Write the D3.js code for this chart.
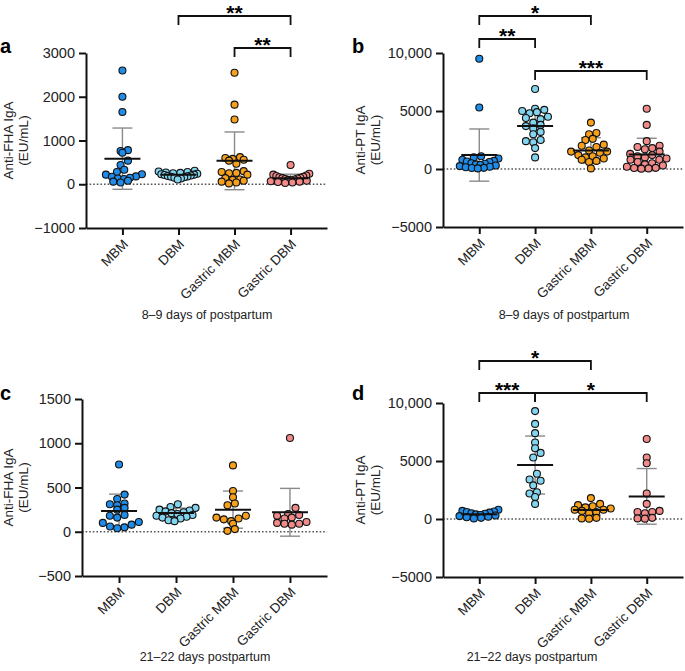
<!DOCTYPE html>
<html>
<head>
<meta charset="utf-8">
<script src="https://cdn.jsdelivr.net/npm/d3@7"></script>
<style>
  body { margin: 0; background: #fff; }
  svg { font-family: "Liberation Sans", Arial, Helvetica, sans-serif; }
</style>
</head>
<body>
<div class="vis"></div>
<script>
// four dot plots, IgA in breast milk

const FRAME_WIDTH = 685;
const FRAME_HEIGHT = 671;

const CATEGORIES = ["MBM", "DBM", "Gastric MBM", "Gastric DBM"];
const COLORS = ["#1e8ce8", "#82d4ef", "#f7a01c", "#f28a8a"];

// a : anti-FHA, 8-9 days
const A_POINTS = [
  [2600, 2000, 1650, 780, 760, 720, 540, 440, 330, 280, 230, 220, 180, 170, 150, 130, 120, 80, 60, 40],
  [310, 290, 280, 270, 260, 250, 240, 230, 220, 210, 200, 190, 180, 170, 160, 150, 130, 110],
  [2550, 1820, 1480, 620, 600, 580, 560, 540, 470, 300, 280, 260, 250, 220, 140, 110, 100, 80, 60, 40, 20],
  [440, 240, 220, 200, 190, 170, 160, 150, 140, 130, 120, 110, 100, 90, 80, 70, 60, 50, 40, 30]
];
const A_MEAN = [585, 215, 535, 140];
const A_SD = [700, 60, 660, 90];
const A_TICKS = [-1000, 0, 1000, 2000, 3000];

// b : anti-PT, 8-9 days
const B_POINTS = [
  [9500, 5300, 1100, 1000, 900, 800, 700, 650, 600, 500, 450, 400, 350, 300, 250, 200, 150, 100, 80, 50],
  [6900, 5200, 5100, 5000, 4900, 4800, 4500, 4400, 4300, 4000, 3800, 3700, 3500, 3200, 3000, 2500, 2400, 2300, 1800, 1000],
  [4000, 3100, 3000, 2600, 2500, 2100, 2000, 1900, 1600, 1500, 1500, 1400, 1200, 1100, 1000, 900, 800, 700, 600, 50],
  [5200, 3800, 2400, 2000, 1900, 1800, 1700, 1500, 1300, 1200, 1100, 1000, 900, 800, 800, 600, 500, 400, 300, 200, 100, 80, 50, 30]
];
const B_MEAN = [1200, 3700, 1600, 1250];
const B_SD = [2250, 1300, 1100, 1400];
const B_TICKS = [-5000, 0, 5000, 10000];

// c : anti-FHA, 21-22 days
const C_POINTS = [
  [760, 420, 370, 320, 310, 300, 270, 250, 190, 180, 160, 110, 100, 80, 60, 50, 40],
  [310, 280, 270, 250, 240, 230, 220, 210, 200, 190, 180, 170, 160, 150, 130, 120],
  [750, 460, 390, 320, 300, 180, 160, 150, 140, 120, 90, 30, 10],
  [1060, 270, 200, 190, 180, 160, 150, 110, 100, 90, 90, 80]
];
const C_MEAN = [235, 212, 250, 220];
const C_SD = [190, 55, 210, 270];
const C_TICKS = [-500, 0, 500, 1000, 1500];

// d : anti-PT, 21-22 days
const D_POINTS = [
  [800, 700, 650, 600, 550, 500, 450, 400, 350, 300, 250, 200, 150, 100, 50],
  [9300, 8200, 7400, 6600, 6100, 5700, 5300, 3900, 3400, 3300, 2900, 2300, 2200, 1900, 1300],
  [1800, 1300, 1200, 1100, 1000, 900, 800, 800, 700, 600, 500, 100, 50, 30],
  [6900, 5300, 4800, 2200, 1300, 700, 600, 600, 500, 100, 50, 30]
];
const D_MEAN = [400, 4650, 780, 1950];
const D_SD = [230, 2500, 450, 2400];
const D_TICKS = [-5000, 0, 5000, 10000];

const PANELS = [
  {letter: "a", lx: 0, ly: 53, x0: 86, x1: 327, top: 53, bot: 228, domain: [-1000, 3000],
   points: A_POINTS, mean: A_MEAN, sd: A_SD, ticks: A_TICKS,
   title: ["Anti-FHA IgA", "(EU/mL)"], tx: 13, xlabel: "8\u20139 days of postpartum", xlx: 207, xly: 319,
   brackets: [{from: 1, to: 3, lev: -37, txt: "**"}, {from: 2, to: 3, lev: -5, txt: "**"}]},
  {letter: "b", lx: 352, ly: 53, x0: 443, x1: 683, top: 53, bot: 227, domain: [-5000, 10000],
   points: B_POINTS, mean: B_MEAN, sd: B_SD, ticks: B_TICKS,
   title: ["Anti-PT IgA", "(EU/mL)"], tx: 365, xlabel: "8\u20139 days of postpartum", xlx: 564, xly: 319,
   brackets: [{from: 0, to: 2, lev: -37, txt: "*"}, {from: 0, to: 1, lev: -14, txt: "**"}, {from: 1, to: 3, lev: 18, txt: "***"}]},
  {letter: "c", lx: 0, ly: 400, x0: 82, x1: 327, top: 399, bot: 576, domain: [-500, 1500],
   points: C_POINTS, mean: C_MEAN, sd: C_SD, ticks: C_TICKS,
   title: ["Anti-FHA IgA", "(EU/mL)"], tx: 13, xlabel: "21\u201322 days postpartum", xlx: 205, xly: 661,
   brackets: []},
  {letter: "d", lx: 352, ly: 400, x0: 443, x1: 683, top: 403, bot: 577, domain: [-5000, 10000],
   points: D_POINTS, mean: D_MEAN, sd: D_SD, ticks: D_TICKS,
   title: ["Anti-PT IgA", "(EU/mL)"], tx: 365, xlabel: "21\u201322 days postpartum", xlx: 532, xly: 661,
   brackets: [{from: 0, to: 2, lev: -42, txt: "*"}, {from: 0, to: 1, lev: -10, txt: "***"}, {from: 1, to: 3, lev: -10, txt: "*"}]}
];

const R = 3.5;

const FRAME = d3.select(".vis")
  .append("svg")
    .attr("width", FRAME_WIDTH)
    .attr("height", FRAME_HEIGHT);

// tick text like graphpad: 10,000 but 5000, real minus
function fmt(v) {
  let s = Math.abs(v) >= 10000 ? d3.format(",")(Math.abs(v)) : String(Math.abs(v));
  return v < 0 ? "\u2212" + s : s;
}

// graphpad style scatter: bin by pixel row, spread each row from the centre,
// squeeze a row when it gets wider than the group
function swarm(values, yScale, cx) {
  const rowH = 2 * R;
  const maxW = 36;
  const pts = values.map(v => ({v: v, y: yScale(v)}));
  const base = yScale(0);
  d3.groups(pts, p => Math.round((p.y - base) / rowH)).forEach(([k, row]) => {
    row.sort((a, b) => a.v - b.v);
    const n = row.length;
    let step = 2 * R * 1.05;
    if ((n - 1) * step > maxW) step = maxW / (n - 1);
    // slots ordered centre-out
    const slots = d3.range(n).map(j => (j - (n - 1) / 2) * step)
      .sort((a, b) => Math.abs(a) - Math.abs(b) || a - b);
    const shift = (k % 2) ? step * 0.25 : -step * 0.25;
    row.forEach((p, j) => { p.x = cx + slots[j] + (n > 1 ? shift : 0); });
  });
  return pts;
}

PANELS.forEach(P => {
  const g = FRAME.append("g");

  const X_SCALE = d3.scalePoint().domain(CATEGORIES).range([P.x0, P.x1]).padding(0.65);
  const Y_SCALE = d3.scaleLinear().domain(P.domain).range([P.bot, P.top]);

  // zero line
  g.append("line")
    .attr("x1", P.x0).attr("x2", P.x1)
    .attr("y1", Y_SCALE(0)).attr("y2", Y_SCALE(0))
    .attr("stroke", "#555").attr("stroke-width", 1.3)
    .attr("stroke-dasharray", "1.6,2");

  // error bars
  CATEGORIES.forEach((c, i) => {
    const cx = X_SCALE(c);
    const hi = Y_SCALE(P.mean[i] + P.sd[i]), lo = Y_SCALE(P.mean[i] - P.sd[i]);
    const eb = g.append("g").attr("stroke", "#8a8a8a").attr("stroke-width", 1.4);
    eb.append("line").attr("x1", cx).attr("x2", cx).attr("y1", hi).attr("y2", lo);
    eb.append("line").attr("x1", cx - 10).attr("x2", cx + 10).attr("y1", hi).attr("y2", hi);
    eb.append("line").attr("x1", cx - 10).attr("x2", cx + 10).attr("y1", lo).attr("y2", lo);
  });

  // points
  CATEGORIES.forEach((c, i) => {
    const pts = swarm(P.points[i], Y_SCALE, X_SCALE(c));
    g.selectAll(".pt" + i)
      .data(pts)
      .enter().append("circle")
        .attr("cx", d => d.x)
        .attr("cy", d => d.y)
        .attr("r", R)
        .attr("fill", COLORS[i])
        .attr("stroke", "#111")
        .attr("stroke-width", 1.1);
  });

  // mean lines
  CATEGORIES.forEach((c, i) => {
    const cx = X_SCALE(c);
    g.append("line")
      .attr("x1", cx - 18).attr("x2", cx + 18)
      .attr("y1", Y_SCALE(P.mean[i])).attr("y2", Y_SCALE(P.mean[i]))
      .attr("stroke", "#111").attr("stroke-width", 2);
  });

  // axes
  const yAxis = g.append("g")
    .attr("transform", "translate(" + P.x0 + ",0)")
    .call(d3.axisLeft(Y_SCALE).tickValues(P.ticks).tickFormat(fmt).tickSize(7).tickSizeOuter(0).tickPadding(4));
  const xAxis = g.append("g")
    .attr("transform", "translate(0," + P.bot + ")")
    .call(d3.axisBottom(X_SCALE).tickSize(7).tickSizeOuter(0));

  [yAxis, xAxis].forEach(ax => {
    ax.select(".domain").attr("stroke", "#111").attr("stroke-width", 2);
    ax.selectAll(".tick line").attr("stroke", "#111").attr("stroke-width", 2);
    ax.selectAll("text").attr("font-family", null).attr("fill", "#222");
  });
  yAxis.selectAll("text").attr("font-size", 14.5);
  xAxis.selectAll(".tick text")
    .attr("font-size", 13.5)
    .attr("text-anchor", "end")
    .attr("y", 0).attr("dy", 0)
    .attr("transform", "translate(6,17) rotate(-45)");

  // axis titles
  P.title.forEach((t, k) => {
    g.append("text")
      .attr("transform", "translate(" + (P.tx + k * 15) + "," + ((P.top + P.bot) / 2) + ") rotate(-90)")
      .attr("text-anchor", "middle")
      .attr("font-size", 13.5).attr("fill", "#222")
      .text(t);
  });
  g.append("text")
    .attr("x", P.xlx).attr("y", P.xly)
    .attr("text-anchor", "middle")
    .attr("font-size", 12.5).attr("fill", "#222")
    .text(P.xlabel);

  // panel letter
  g.append("text")
    .attr("x", P.lx).attr("y", P.ly)
    .attr("font-size", 20).attr("font-weight", "bold")
    .text(P.letter);

  // significance brackets
  P.brackets.forEach(b => {
    const xa = X_SCALE(CATEGORIES[b.from]), xb = X_SCALE(CATEGORIES[b.to]);
    const y = P.top + b.lev;
    g.append("path")
      .attr("d", "M" + xa + "," + (y + 9) + "V" + y + "H" + xb + "V" + (y + 9))
      .attr("fill", "none").attr("stroke", "#111").attr("stroke-width", 1.8);
    g.append("text")
      .attr("x", (xa + xb) / 2).attr("y", y + 4)
      .attr("text-anchor", "middle")
      .attr("font-size", 21).attr("font-weight", "bold")
      .text(b.txt);
  });
});
</script>
</body>
</html>
